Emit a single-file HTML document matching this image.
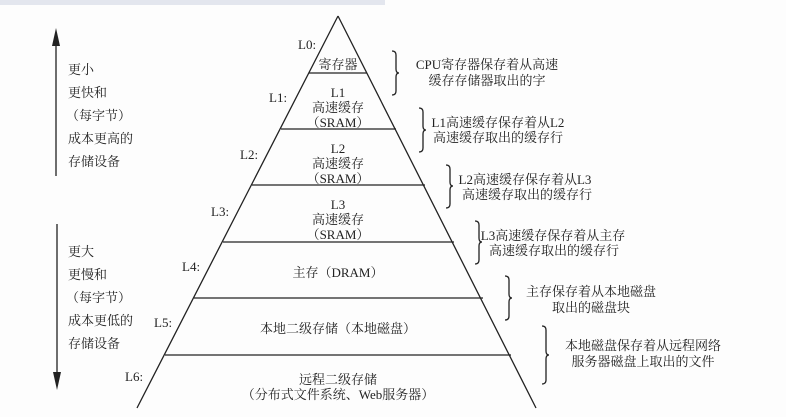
<!DOCTYPE html>
<html><head><meta charset="utf-8"><style>
html,body{margin:0;padding:0;background:#fff;}
svg{display:block;}
text{font-family:"Liberation Serif","Noto Serif CJK SC","Noto Sans CJK SC",serif;font-size:13px;fill:#222;}
</style></head><body>
<svg width="786" height="417" viewBox="0 0 786 417" xmlns="http://www.w3.org/2000/svg">
<rect x="0" y="0" width="786" height="417" fill="#fdfdfd"/>
<rect x="0" y="0" width="385" height="5" fill="#e3e6ee"/>
<g stroke="#222" stroke-width="1.3" fill="none">
<path d="M338 16 L137 408 M338 16 L536 408"/>
<line x1="309" y1="73" x2="367" y2="73"/>
<line x1="281" y1="129" x2="396" y2="129"/>
<line x1="252" y1="185" x2="425" y2="185"/>
<line x1="223" y1="242" x2="454" y2="242"/>
<line x1="194" y1="298" x2="483" y2="298"/>
<line x1="165" y1="355" x2="511" y2="355"/>
<line x1="56" y1="44" x2="56" y2="176"/>
<line x1="57" y1="224" x2="57" y2="374"/>
<path d="M392 51 Q396 51 396 55 L396 69 Q396 73 399 73 Q396 73 396 77 L396 91 Q396 95 392 95"/>
<path d="M419 108 Q423 108 423 112 L423 126 Q423 130 426 130 Q423 130 423 134 L423 148 Q423 152 419 152"/>
<path d="M446 165 Q450 165 450 169 L450 182 Q450 186 453 186 Q450 186 450 190 L450 204 Q450 208 446 208"/>
<path d="M475 221 Q479 221 479 225 L479 238 Q479 242 482 242 Q479 242 479 246 L479 260 Q479 264 475 264"/>
<path d="M505 276 Q509 276 509 280 L509 294 Q509 298 512 298 Q509 298 509 302 L509 316 Q509 320 505 320"/>
<path d="M542 326 Q546 326 546 330 L546 351 Q546 355 549 355 Q546 355 546 359 L546 380 Q546 384 542 384"/>
</g>
<polygon points="56,28 52,46 60,46" fill="#222"/>
<polygon points="57,390 53,372 61,372" fill="#222"/>
<g>
<text x="298" y="49">L0:</text>
<text x="269" y="102">L1:</text>
<text x="240" y="159">L2:</text>
<text x="211" y="216">L3:</text>
<text x="182" y="271">L4:</text>
<text x="154" y="327">L5:</text>
<text x="125" y="381">L6:</text>
</g>
<g text-anchor="middle">
<text x="338" y="69">寄存器</text>
<text x="338" y="97">L1</text>
<text x="338" y="112">高速缓存</text>
<text x="338" y="127">（SRAM）</text>
<text x="338" y="153">L2</text>
<text x="338" y="168">高速缓存</text>
<text x="338" y="183">（SRAM）</text>
<text x="338" y="209">L3</text>
<text x="338" y="224">高速缓存</text>
<text x="338" y="239">（SRAM）</text>
<text x="338" y="277">主存（DRAM）</text>
<text x="338" y="333">本地二级存储（本地磁盘）</text>
<text x="338" y="384">远程二级存储</text>
<text x="338" y="399">（分布式文件系统、Web服务器）</text>
<text x="487" y="69">CPU寄存器保存着从高速</text>
<text x="487" y="85">缓存存储器取出的字</text>
<text x="498" y="127">L1高速缓存保存着从L2</text>
<text x="498" y="142">高速缓存取出的缓存行</text>
<text x="525" y="184">L2高速缓存保存着从L3</text>
<text x="527" y="199">高速缓存取出的缓存行</text>
<text x="553" y="240">L3高速缓存保存着从主存</text>
<text x="554" y="255">高速缓存取出的缓存行</text>
<text x="591" y="296">主存保存着从本地磁盘</text>
<text x="591" y="312">取出的磁盘块</text>
<text x="643" y="350">本地磁盘保存着从远程网络</text>
<text x="643" y="366">服务器磁盘上取出的文件</text>
</g>
<g>
<text x="68" y="74">更小</text>
<text x="68" y="97">更快和</text>
<text x="66" y="120">（每字节）</text>
<text x="68" y="143">成本更高的</text>
<text x="68" y="166">存储设备</text>
<text x="68" y="256">更大</text>
<text x="68" y="279">更慢和</text>
<text x="66" y="302">（每字节）</text>
<text x="68" y="325">成本更低的</text>
<text x="68" y="348">存储设备</text>
</g>
</svg>
</body></html>
